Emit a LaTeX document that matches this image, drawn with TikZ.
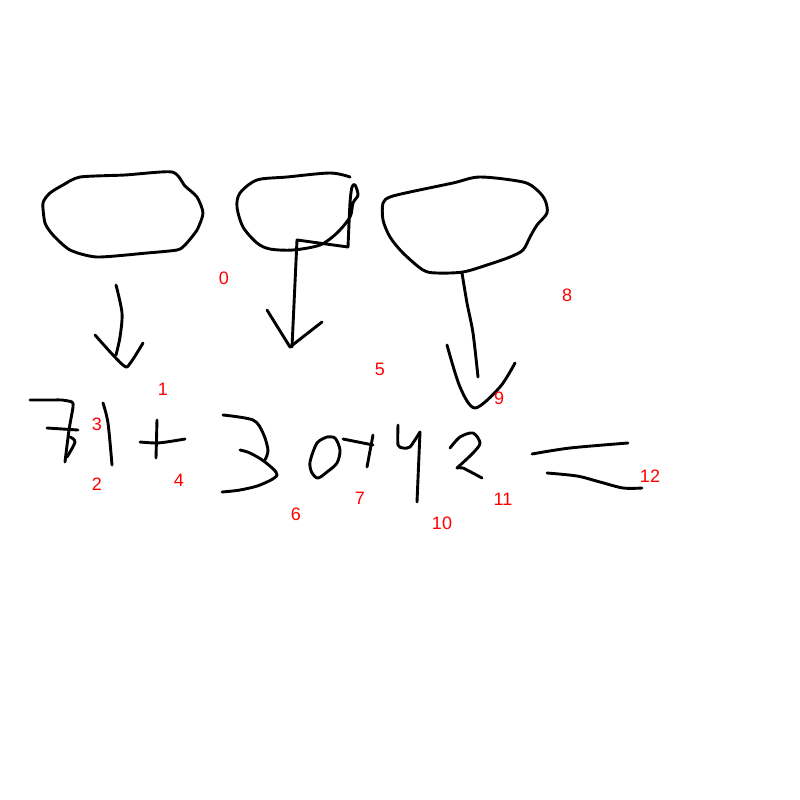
\documentclass[tikz,border=0pt]{standalone}
\usepackage{fontspec}
\setmainfont{Liberation Sans}
\tikzset{   pen/.style = {line width = 2.9pt, line cap = round, line join = round, black},
            num/.style = {text = red, font = \fontsize{18}{18}\selectfont, inner sep = 0pt}}

\begin{document}
\begin{tikzpicture}[x=1pt, y=-1pt]
                        \useasboundingbox (0,0) rectangle (800,800);
                        \begin{scope}[pen]
                        \draw plot[smooth cycle, tension=0.4] coordinates {(80,177) (125,175) (172,172) (185,186) (197,197) (203,213) (197,230) (185,245) (177,250) (147,253) (97,257) (70,250) (53,235) (45,223) (43,203) (50,193) (63,185)};
                        \draw plot[smooth, tension=0.5] coordinates {(116,285) (122,313) (120,337) (116,355)};
                        \draw plot[smooth, tension=0.3] coordinates {(95,335) (113,355) (127,367) (143,343)};
                        \draw plot[smooth, tension=0.5] coordinates {(350,177) (330,173) (287,177) (257,180) (240,193) (237,207) (243,227) (257,243) (270,249) (293,250) (320,245) (337,233) (350,217) (353,203) (358,195) (355,185) (352,187) (350,203) (348,247)};
                        \draw (348,247) -- (297,240) -- (292,347);
                        \draw (267,310) -- (290,347) -- (322,322);
                        \draw plot[smooth cycle, tension=0.5] coordinates {(480,177) (523,182) (537,190) (545,200) (547,213) (537,225) (530,237) (523,250) (510,257) (487,265) (463,272) (437,273) (423,270) (403,253) (390,237) (383,220) (383,203) (390,197) (410,192) (453,183)};
                        \draw plot[smooth, tension=0.5] coordinates {(462,273) (467,303) (473,333) (478,377)};
                        \draw plot[smooth, tension=0.5] coordinates {(447,345) (460,387) (475,408) (500,387) (515,363)};
                        \draw plot[smooth, tension=0.4] coordinates {(30,400) (53,400) (62,400) (72,402) (73,407) (69,430) (65,462)};
                        \draw (47,428) -- (78,430);
                        \draw plot[smooth, tension=0.5] coordinates {(70,437) (75,442) (67,457)};
                        \draw plot[smooth, tension=0.5] coordinates {(103,403) (108,423) (112,465)};
                        \draw (157,420) -- (156,458);
                        \draw plot[smooth, tension=0.5] coordinates {(140,442) (157,443) (173,441) (185,439)};
                        \draw plot[smooth, tension=0.5] coordinates {(223,415) (253,420) (263,433) (268,450) (265,460)};
                        \draw plot[smooth, tension=0.5] coordinates {(240,450) (250,453) (265,462) (277,475) (260,485) (240,490) (222,492)};
                        \draw plot[smooth, tension=0.5] coordinates {(327,437) (317,443) (310,462) (312,473) (318,478) (327,472) (337,463) (340,450) (335,438) (327,437)};
                        \draw (343,439) -- (373,445);
                        \draw (373,435) -- (367,467);
                        \draw plot[smooth, tension=0.4] coordinates {(398,425) (398,445) (403,448) (410,447) (420,432)};
                        \draw (420,432) -- (417,502);
                        \draw plot[smooth, tension=0.5] coordinates {(450,448) (460,437) (473,433) (480,443) (473,453) (457,468)};
                        \draw plot[smooth, tension=0.3] coordinates {(457,468) (463,468) (482,478)};
                        \draw plot[smooth, tension=0.5] coordinates {(532,454) (570,448) (628,443)};
                        \draw plot[smooth, tension=0.5] coordinates {(547,473) (577,476) (600,482) (623,488) (642,488)};
                        \end{scope}
                        \node[num] (n0) at (224,278) {0};
                        \node[num] (n1) at (163,389) {1};
                        \node[num] (n2) at (97,484) {2};
                        \node[num] (n3) at (97,424) {3};
                        \node[num] (n4) at (179,480) {4};
                        \node[num] (n5) at (380,369) {5};
                        \node[num] (n6) at (296,514) {6};
                        \node[num] (n7) at (360,498) {7};
                        \node[num] (n8) at (567,295) {8};
                        \node[num] (n9) at (499,398) {9};
                        \node[num] (n10) at (442,523) {10};
                        \node[num] (n11) at (503,499) {11};
                        \node[num] (n12) at (650,476) {12};
                      \end{tikzpicture}
\end{document}
